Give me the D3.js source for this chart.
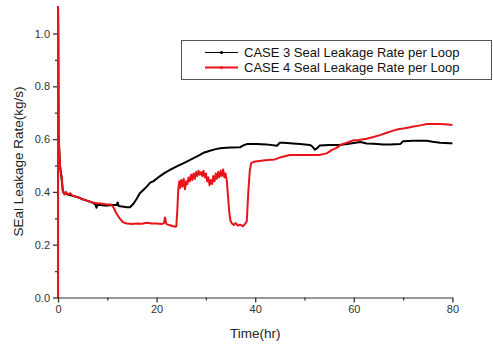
<!DOCTYPE html>
<html>
<head>
<meta charset="utf-8">
<script src="https://cdn.jsdelivr.net/npm/d3@7"></script>
<style>
  html, body { margin: 0; padding: 0; background: #fff; }
  svg { display: block; font-family: "Liberation Sans", Arial, sans-serif; }
</style>
</head>
<body>
<svg id="chart" width="493" height="347"></svg>
<script>
// Seal leakage rate per loop over time, two cases
const seriesNames = ["CASE 3 Seal Leakage Rate per Loop", "CASE 4 Seal Leakage Rate per Loop"];
const seriesColors = ["#000000", "#e8141a"];

const xTicksMajor = [0, 20, 40, 60, 80];
const xTicksMinor = [10, 30, 50, 70];
const yTicksMajor = [0.0, 0.2, 0.4, 0.6, 0.8, 1.0];
const yTicksMinor = [0.1, 0.3, 0.5, 0.7, 0.9];

// CASE 3: [time (hr), rate (kg/s)]
const case3 = [
  [0, 0], [0, 1.1], [0.05, 0.98], [0.08, 0.8], [0.12, 0.62], [0.25, 0.56], [0.4, 0.5],
  [0.6, 0.47], [0.9, 0.42], [1.0, 0.40], [2.0, 0.39], [3.0, 0.385], [4, 0.38],
  [5, 0.372], [6, 0.366], [7, 0.36], [7.6, 0.352], [7.8, 0.34], [8.0, 0.35],
  [8.5, 0.35], [10, 0.348], [11, 0.35], [11.9, 0.35], [12.1, 0.36], [12.3, 0.347],
  [13, 0.345], [14, 0.342], [14.6, 0.342], [15.3, 0.355], [16, 0.375], [16.6, 0.395],
  [17.3, 0.407], [18, 0.42], [18.7, 0.435], [19.3, 0.44], [20, 0.45], [20.7, 0.46],
  [21.5, 0.47], [22.7, 0.483], [23.4, 0.49], [24.7, 0.502], [25.4, 0.508],
  [26.8, 0.521], [27.4, 0.527], [28.8, 0.54], [29.5, 0.548], [30.2, 0.552],
  [30.8, 0.556], [32, 0.562], [32.9, 0.565], [33.5, 0.566], [35, 0.568],
  [36.9, 0.569], [37.6, 0.576], [38.3, 0.581], [40.3, 0.581], [42.3, 0.58],
  [44.4, 0.575], [45.0, 0.586], [45.7, 0.586], [47, 0.584], [49.1, 0.581],
  [51.1, 0.578], [51.6, 0.572], [52.1, 0.56], [52.6, 0.566], [53.1, 0.576],
  [55, 0.578], [57.2, 0.578], [59, 0.582], [61.3, 0.589], [62.6, 0.583],
  [64, 0.582], [66, 0.58], [67.3, 0.58], [69.4, 0.581], [70, 0.592], [72, 0.594],
  [74.8, 0.594], [76, 0.59], [77.5, 0.586], [79.5, 0.584], [80, 0.584]
];

// CASE 4: [time (hr), rate (kg/s)]
const case4 = [
  [0, 0], [0, 1.1], [0.05, 0.98], [0.08, 0.8], [0.12, 0.62], [0.25, 0.56], [0.4, 0.5],
  [0.6, 0.47], [0.75, 0.46], [0.9, 0.42], [1.0, 0.40], [1.3, 0.39], [1.6, 0.40],
  [2.0, 0.39], [2.5, 0.395], [3.0, 0.385], [4, 0.38], [5, 0.372], [6, 0.366],
  [7, 0.36], [8, 0.357], [9, 0.355], [10, 0.352], [10.8, 0.352], [11.3, 0.34],
  [11.8, 0.32], [12.5, 0.30], [13.2, 0.285], [14, 0.28], [15, 0.278], [16, 0.28],
  [17, 0.279], [18, 0.283], [19, 0.28], [20, 0.28], [21, 0.278], [21.5, 0.282],
  [21.7, 0.303], [22, 0.278], [23, 0.272], [23.7, 0.268], [24.0, 0.27],
  [24.2, 0.33], [24.4, 0.41], [24.6, 0.44], [24.8, 0.415], [25.0, 0.445],
  [25.25, 0.42], [25.5, 0.45], [25.75, 0.41], [26.0, 0.44], [26.25, 0.43],
  [26.5, 0.455], [26.75, 0.44], [27.0, 0.465], [27.25, 0.445], [27.5, 0.47],
  [27.75, 0.45], [28.0, 0.475], [28.25, 0.46], [28.5, 0.48], [28.75, 0.465],
  [29.0, 0.475], [29.25, 0.46], [29.5, 0.48], [29.75, 0.455], [30.0, 0.47],
  [30.25, 0.44], [30.5, 0.455], [30.75, 0.425], [31.0, 0.445], [31.25, 0.43],
  [31.5, 0.46], [31.75, 0.44], [32.0, 0.47], [32.25, 0.45], [32.5, 0.475],
  [32.75, 0.455], [33.0, 0.48], [33.25, 0.46], [33.5, 0.485], [33.75, 0.455],
  [34.0, 0.47], [34.25, 0.44], [34.5, 0.38], [34.75, 0.32], [35.0, 0.29],
  [35.3, 0.28], [35.7, 0.275], [36, 0.282], [36.5, 0.272], [37, 0.276],
  [37.5, 0.27], [38, 0.28], [38.3, 0.29], [38.6, 0.4], [38.9, 0.48], [39.2, 0.51],
  [40, 0.515], [42, 0.52], [44, 0.523], [45, 0.53], [46, 0.535], [47, 0.54],
  [50, 0.54], [53, 0.54], [54.5, 0.546], [55.5, 0.558], [56.5, 0.567],
  [57.5, 0.58], [58.6, 0.586], [60, 0.596], [61, 0.597], [62.6, 0.601],
  [64, 0.608], [65.3, 0.615], [66.7, 0.624], [68, 0.632], [69, 0.637], [70, 0.64],
  [71.4, 0.645], [72.1, 0.648], [73.5, 0.652], [74.8, 0.657], [77, 0.657],
  [78.5, 0.656], [80, 0.653]
];

const svg = d3.select("#chart");
const plot = { left: 58, right: 452.4, top: 7.1, bottom: 297.5 };

const x = d3.scaleLinear().domain([0, 80]).range([plot.left, plot.right]);
const y = d3.scaleLinear().domain([0, 1.1]).range([plot.bottom, plot.top]);

const axisColor = "#333";
const tickFont = 11;

// x axis
const gx = svg.append("g").attr("transform", `translate(0,${plot.bottom})`);
gx.call(d3.axisBottom(x).tickValues(xTicksMajor).tickSize(5).tickSizeOuter(0).tickPadding(3).tickFormat(d3.format("d")));
gx.append("g").call(d3.axisBottom(x).tickValues(xTicksMinor).tickSize(3).tickFormat(""))
  .select(".domain").remove();

// y axis
const gy = svg.append("g").attr("transform", `translate(${plot.left},0)`);
gy.call(d3.axisLeft(y).tickValues(yTicksMajor).tickSize(5).tickSizeOuter(0).tickPadding(3).tickFormat(d3.format(".1f")));
gy.append("g").call(d3.axisLeft(y).tickValues(yTicksMinor).tickSize(3).tickFormat(""))
  .select(".domain").remove();

svg.selectAll(".domain").attr("stroke", axisColor).attr("stroke-width", 1.2);
svg.selectAll(".tick line").attr("stroke", axisColor).attr("stroke-width", 1.3);
svg.selectAll(".tick text")
  .attr("fill", "#333")
  .style("font-size", tickFont + "px")
  .style("font-family", "'Liberation Sans', Arial, sans-serif");

// axis titles
svg.append("text")
  .attr("x", x(40)).attr("y", 338)
  .attr("text-anchor", "middle")
  .attr("fill", "#222")
  .style("font-size", "13.5px")
  .text("Time(hr)");

svg.append("text")
  .attr("transform", `translate(23,${161.5}) rotate(-90)`)
  .attr("text-anchor", "middle")
  .attr("fill", "#222")
  .style("font-size", "13.5px")
  .text("SEal Leakage Rate(kg/s)");

// series lines
const line = d3.line().x(d => x(d[0])).y(d => y(d[1]));
[case3, case4].forEach((data, i) => {
  svg.append("path")
    .datum(data)
    .attr("fill", "none")
    .attr("stroke", seriesColors[i])
    .attr("stroke-width", 2)
    .attr("stroke-linejoin", "round")
    .attr("d", line);
});

// legend
const legend = svg.append("g");
legend.append("rect")
  .attr("x", 181.5).attr("y", 40.5)
  .attr("width", 310).attr("height", 39)
  .attr("fill", "#fff")
  .attr("stroke", "#555")
  .attr("stroke-width", 1);

seriesNames.forEach((name, i) => {
  const ly = 52.5 + i * 15;
  legend.append("line")
    .attr("x1", 205).attr("x2", 238)
    .attr("y1", ly).attr("y2", ly)
    .attr("stroke", seriesColors[i])
    .attr("stroke-width", i === 0 ? 1.2 : 2);
  legend.append("circle")
    .attr("cx", 221.5).attr("cy", ly).attr("r", 1.6)
    .attr("fill", seriesColors[i]);
  legend.append("text")
    .attr("x", 244).attr("y", ly + 4.6)
    .attr("fill", "#111")
    .style("font-size", "13px")
    .text(name);
});
</script>
</body>
</html>
